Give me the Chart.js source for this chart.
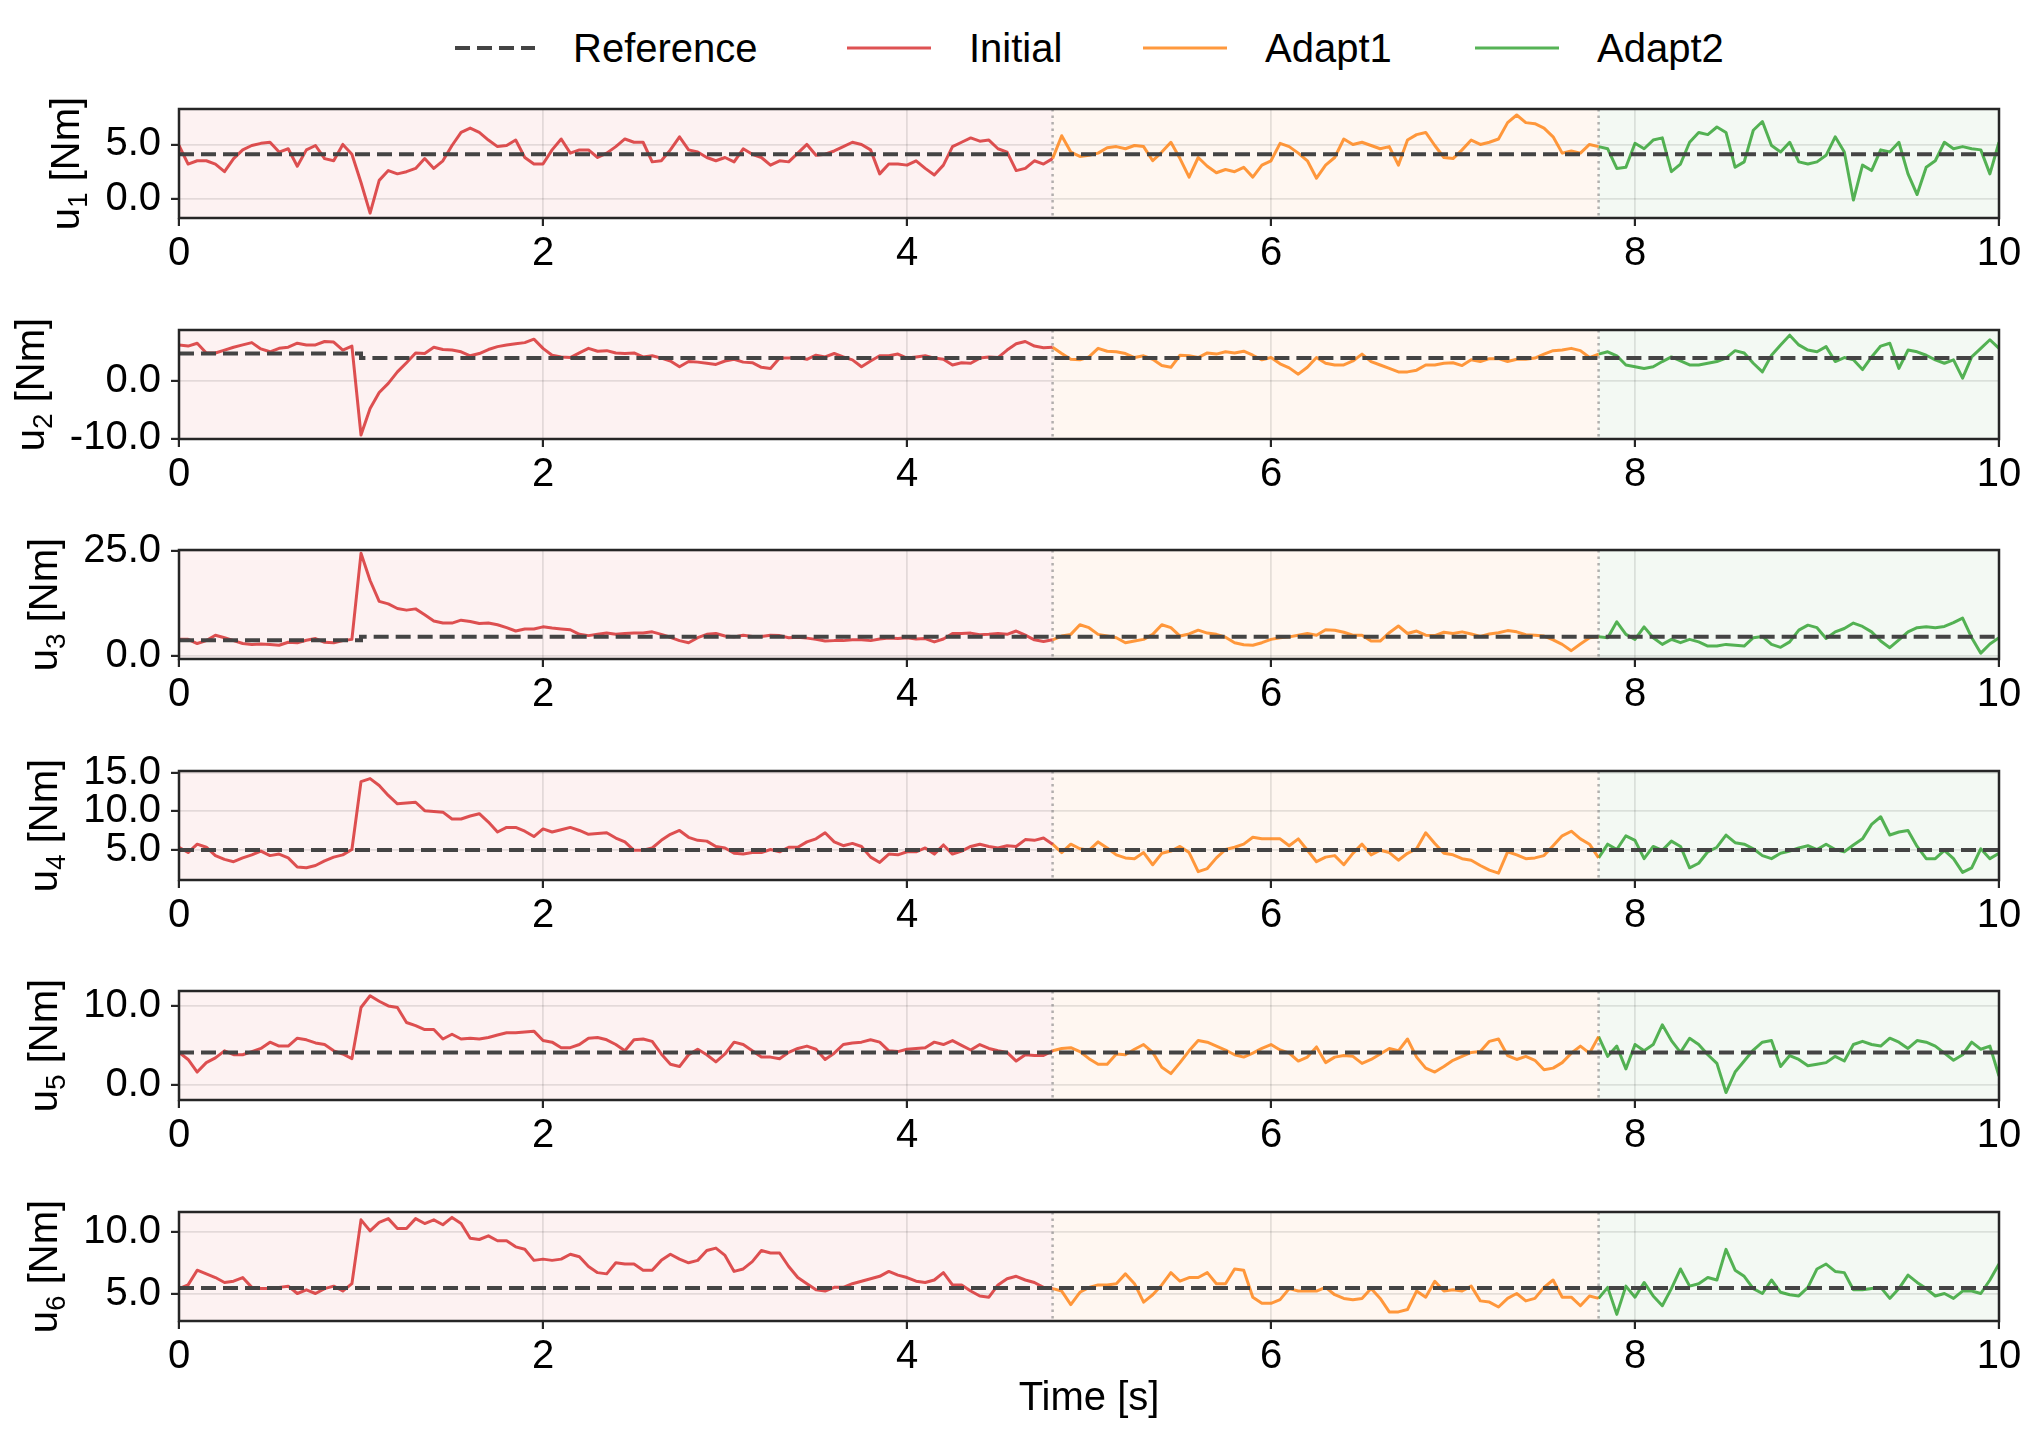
<!DOCTYPE html>
<html>
<head>
<meta charset="utf-8">
<script src="https://cdn.jsdelivr.net/npm/chart.js@4.4.1/dist/chart.umd.min.js"></script>
<style>
  body { margin: 0; background: #fff; width: 2037px; height: 1435px; position: relative; overflow: hidden;
         font-family: "Liberation Sans", Arial, sans-serif; }
  .panel { position: absolute; left: 0; }
  .item { position: absolute; top: 23px; height: 50px; display: flex; align-items: center; font-size: 40px; color: #000; }
  .item span { margin-left: 38px; }
</style>
</head>
<body>
<div class="item" style="left:455px"><svg width="80" height="8"><line x1="0" y1="4" x2="80" y2="4" stroke="#444" stroke-width="4" stroke-dasharray="15 7"/></svg><span>Reference</span></div>
<div class="item" style="left:847px"><svg width="84" height="8"><line x1="0" y1="4" x2="84" y2="4" stroke="rgba(214,39,40,0.8)" stroke-width="3"/></svg><span>Initial</span></div>
<div class="item" style="left:1143px"><svg width="84" height="8"><line x1="0" y1="4" x2="84" y2="4" stroke="rgba(255,127,14,0.8)" stroke-width="3"/></svg><span>Adapt1</span></div>
<div class="item" style="left:1475px"><svg width="84" height="8"><line x1="0" y1="4" x2="84" y2="4" stroke="rgba(44,160,44,0.8)" stroke-width="3"/></svg><span>Adapt2</span></div>
<div id="panels"></div>
<script>
// sampling and phases
const dt = 0.05;
const phaseStart = [0, 4.8, 7.8];
const phaseEnd = 10;
const xTicks = [0, 2, 4, 6, 8, 10];

// reference torque (steps at t = 1 s)
const refSwitch = 1.0;
const refBefore = [4.1, 4.8, 3.7, 4.95, 4.1, 5.45];
const refAfter  = [4.1, 4.0, 4.5, 4.95, 4.1, 5.45];

// y axes
const yMin = [-1.75, -10.1, -0.8, 1.0, -1.95, 2.76];
const yMax = [8.25, 8.9, 25.3, 15.3, 11.9, 11.64];
const yTicks = [[0, 5], [-10, 0], [0, 25], [5, 10, 15], [0, 10], [5, 10]];

// u1
const u1Initial = [4.9,3.2,3.5,3.5,3.2,2.5,3.7,4.5,4.9,5.1,5.2,4.3,4.6,3.0,4.5,4.9,3.7,3.5,5.0,4.1,
  1.5,-1.3,1.7,2.6,2.3,2.5,2.8,3.7,2.8,3.5,4.9,6.1,6.5,6.1,5.4,4.8,4.9,5.4,3.8,3.2,
  3.2,4.5,5.5,4.2,4.5,4.5,3.8,4.2,4.8,5.5,5.2,5.2,3.4,3.5,4.5,5.7,4.5,4.3,3.8,3.5,
  3.8,3.4,4.6,4.1,3.8,3.1,3.5,3.4,4.2,5.0,4.0,4.1,4.4,4.8,5.2,5.0,4.5,2.3,3.2,3.2,
  3.1,3.5,2.8,2.2,3.1,4.8,5.2,5.6,5.3,5.4,4.6,4.3,2.6,2.8,3.5,3.2,3.7];
const u1Adapt1 = [3.7,5.8,4.3,3.9,
  4.0,4.2,4.7,4.8,4.6,4.9,4.8,3.5,4.3,5.2,3.7,2.0,3.8,3.0,2.4,2.7,2.5,2.9,2.0,3.1,
  3.5,5.1,4.8,4.2,3.5,1.9,3.1,3.8,5.5,5.0,5.2,4.9,4.6,4.8,3.1,5.4,5.9,6.1,4.9,3.8,
  3.7,4.5,5.4,5.0,5.2,5.5,7.0,7.7,7.0,6.9,6.5,5.7,4.2,4.4,4.2,5.0,4.8];
const u1Adapt2 = [4.8,4.6,2.8,2.9,
  5.1,4.6,5.4,5.6,2.5,3.2,5.2,6.1,5.9,6.6,6.1,2.9,3.4,6.3,7.1,4.9,4.3,5.2,3.4,3.2,
  3.4,4.0,5.7,4.3,-0.1,3.1,2.6,4.5,4.3,5.2,2.3,0.4,2.9,3.5,5.2,4.6,4.8,4.6,4.5,2.3,
  5.2];

// u2
const u2Initial = [6.3,6.1,6.6,4.9,4.9,5.4,5.9,6.3,6.7,5.6,5.1,5.7,5.9,6.6,6.3,6.3,6.9,6.8,5.4,6.1,
  -9.4,-4.8,-2.0,-0.4,1.6,3.2,4.9,4.8,5.9,5.5,5.4,5.1,4.4,4.8,5.5,6.0,6.3,6.5,6.7,7.3,
  5.7,4.5,4.2,4.1,4.9,5.7,5.2,5.3,4.9,4.8,4.9,4.2,4.4,4.0,3.5,2.5,3.4,3.3,3.1,2.9,
  3.5,3.8,3.3,3.2,2.4,2.2,4.0,4.0,4.1,3.8,4.5,4.2,4.8,4.2,3.7,2.5,3.5,4.4,4.4,4.7,
  4.0,4.2,4.4,4.0,3.8,2.8,3.2,3.1,4.0,4.2,4.1,5.4,6.5,6.9,6.1,5.8,5.9];
const u2Adapt1 = [5.9,4.8,3.8,3.7,
  4.2,5.7,5.2,5.1,4.8,4.1,4.4,3.8,2.7,2.4,4.5,4.4,4.1,4.9,4.7,5.1,4.9,5.2,4.5,3.7,
  4.1,3.0,2.3,1.2,2.4,4.1,3.1,2.8,2.8,3.5,4.7,3.4,2.8,2.2,1.6,1.6,1.9,2.8,2.8,3.1,
  3.2,2.7,3.7,3.4,3.9,3.9,3.4,3.8,3.8,4.0,4.7,5.3,5.4,5.7,5.3,4.1,4.7];
const u2Adapt2 = [4.7,5.1,4.4,2.8,
  2.5,2.2,2.5,3.4,4.2,3.5,2.8,2.8,3.1,3.4,4.0,5.3,4.9,3.1,1.6,4.5,6.3,8.0,6.3,5.4,
  5.1,6.0,3.4,4.1,3.7,2.0,4.2,6.1,6.6,2.2,5.4,5.1,4.5,3.7,3.1,3.7,0.5,4.2,5.7,7.2,
  5.7];

// u3
const u3Initial = [3.9,3.9,2.9,3.6,4.9,4.3,3.6,2.9,2.7,2.8,2.7,2.5,3.2,3.1,3.7,4.1,3.2,3.1,3.6,3.9,
  24.5,18.0,13.0,12.4,11.3,10.9,11.2,9.8,8.3,7.8,7.8,8.5,8.2,7.7,7.8,7.4,6.7,5.9,6.4,6.4,
  6.9,6.6,6.4,6.2,5.1,4.8,5.1,5.4,5.1,5.3,5.4,5.4,5.7,5.1,4.4,3.6,3.1,4.3,5.1,5.3,
  4.7,4.5,4.9,4.6,4.6,4.9,4.8,4.3,4.4,4.2,3.9,3.5,3.6,3.6,3.8,3.8,3.6,4.0,4.2,4.1,
  4.3,4.0,4.1,3.3,4.0,5.3,5.3,5.4,5.0,5.1,5.3,5.1,5.9,4.9,3.8,3.4,3.8];
const u3Adapt1 = [3.8,4.7,5.1,7.4,
  6.7,5.1,4.7,4.3,3.1,3.5,3.9,5.1,7.4,6.7,4.7,5.2,6.1,5.4,5.1,4.4,3.1,2.6,2.5,3.1,
  3.9,4.3,4.5,4.9,5.3,4.9,6.2,6.1,5.6,4.9,4.9,3.5,3.5,5.5,7.1,5.3,5.9,4.9,4.8,5.6,
  5.3,5.7,5.2,4.6,5.2,5.5,6.0,5.7,5.0,4.9,4.7,3.8,2.7,1.2,2.8,4.3,4.5];
const u3Adapt2 = [4.5,4.3,8.1,5.1,
  3.9,6.9,4.3,2.7,3.9,3.1,3.9,3.3,2.3,2.3,2.7,2.5,2.3,4.3,4.6,2.7,2.0,3.3,6.1,7.3,
  6.7,4.1,5.7,6.5,7.8,7.0,5.7,3.5,1.9,3.8,5.7,6.7,6.9,6.7,7.0,7.9,9.0,4.3,0.6,2.8,
  4.3];

// u4
const u4Initial = [5.3,4.6,5.7,5.3,4.2,3.7,3.4,3.9,4.3,4.8,4.2,4.4,3.9,2.7,2.6,2.9,3.5,4.0,4.3,5.0,
  13.9,14.3,13.4,12.1,11.0,11.1,11.2,10.1,10.0,9.9,9.0,9.0,9.4,9.7,8.6,7.3,7.9,7.9,7.4,6.7,
  7.7,7.3,7.6,7.9,7.5,7.0,7.1,7.2,6.5,6.0,4.9,4.9,5.2,6.2,7.0,7.5,6.6,6.2,6.1,5.4,
  5.2,4.5,4.4,4.6,4.6,5.0,4.7,5.3,5.3,6.0,6.4,7.2,6.0,5.5,5.8,5.4,4.0,3.3,4.4,4.3,
  4.7,4.7,5.2,4.4,5.6,4.4,4.8,5.4,5.7,5.4,5.2,5.5,5.4,6.3,6.2,6.5,5.7];
const u4Adapt1 = [5.7,4.6,5.7,5.1,
  4.9,6.0,5.2,4.3,3.9,3.8,4.6,3.0,4.5,4.8,5.4,4.6,2.1,2.5,3.9,5.0,5.3,5.7,6.6,6.4,
  6.4,6.4,5.5,6.4,4.9,3.4,4.0,4.2,3.0,4.5,5.7,4.3,4.9,4.6,3.6,4.5,5.1,7.2,5.8,4.5,
  4.3,3.8,3.6,2.9,2.3,1.9,4.7,4.3,3.8,3.9,4.2,5.5,6.8,7.4,6.4,5.7,3.9];
const u4Adapt2 = [3.9,5.7,5.0,6.8,
  6.2,3.8,5.4,4.9,6.1,5.4,2.6,3.2,4.7,5.3,6.9,5.9,5.7,5.1,4.2,3.8,4.5,4.8,5.2,5.5,
  5.0,5.7,5.0,4.7,5.6,6.4,8.3,9.3,6.9,7.3,7.5,5.4,3.8,3.8,4.9,3.8,2.0,2.6,5.1,3.8,
  4.5];

// u5
const u5Initial = [4.1,3.2,1.6,2.8,3.4,4.3,3.8,3.8,4.2,4.6,5.4,4.9,4.9,5.9,5.7,5.3,5.1,4.3,3.9,3.3,
  9.8,11.3,10.6,10.0,9.8,7.9,7.5,7.0,7.0,5.8,6.4,5.8,5.9,5.8,6.0,6.3,6.6,6.6,6.7,6.8,
  5.6,5.4,4.7,4.7,5.1,5.9,6.0,5.7,5.1,4.3,5.7,5.8,5.5,3.9,2.6,2.3,3.8,4.5,3.8,2.9,
  3.9,5.4,5.1,4.3,3.5,3.5,3.3,4.1,4.6,4.9,4.5,3.2,4.0,5.1,5.3,5.4,5.7,5.4,4.3,4.2,
  4.5,4.6,4.7,5.4,5.1,5.6,5.0,4.4,5.1,4.6,4.3,4.1,3.0,3.8,3.7,3.7,4.3];
const u5Adapt1 = [4.3,4.6,4.7,4.2,
  3.3,2.6,2.6,3.9,3.8,4.5,5.1,4.1,2.2,1.4,2.8,4.3,5.6,5.4,4.9,4.4,3.8,3.5,4.0,4.6,
  5.1,4.4,4.0,3.0,3.5,4.8,2.8,3.5,3.7,3.6,2.7,3.2,3.9,4.6,4.3,5.8,3.5,2.1,1.6,2.3,
  3.1,3.6,4.1,4.2,5.5,5.8,3.7,3.2,3.6,3.1,1.9,2.1,2.8,4.0,4.9,4.0,6.1];
const u5Adapt2 = [6.1,3.6,4.9,2.0,
  5.1,4.3,5.1,7.6,5.6,4.1,5.9,5.1,3.8,2.7,-1.0,1.6,3.0,4.4,5.4,5.6,2.3,3.7,3.2,2.4,
  2.6,2.8,3.6,3.0,5.1,5.5,5.1,4.9,5.9,5.4,4.6,5.6,5.4,4.9,4.0,3.1,3.8,5.4,4.5,4.9,
  1.1];

// u6
const u6Initial = [5.4,5.7,6.9,6.6,6.3,5.9,6.0,6.3,5.5,5.4,5.4,5.5,5.6,5.0,5.3,5.0,5.4,5.6,5.2,5.8,
  11.0,10.1,10.8,11.1,10.3,10.3,11.1,10.7,11.0,10.6,11.2,10.7,9.5,9.4,9.7,9.3,9.3,8.8,8.6,7.7,
  7.8,7.7,7.8,8.2,8.0,7.2,6.7,6.6,7.5,7.4,7.4,6.9,6.9,7.7,8.2,7.8,7.5,7.7,8.5,8.7,
  8.1,6.8,7.0,7.6,8.5,8.3,8.3,7.2,6.3,5.8,5.3,5.2,5.5,5.5,5.8,6.0,6.2,6.4,6.8,6.5,
  6.3,6.0,5.9,6.1,6.7,5.7,5.7,5.2,4.8,4.7,5.7,6.2,6.4,6.1,5.9,5.5,5.4];
const u6Adapt1 = [5.4,5.2,4.1,5.1,
  5.5,5.7,5.7,5.8,6.6,5.8,4.3,4.9,5.7,6.7,6.0,6.3,6.3,6.7,5.8,5.8,7.0,6.9,4.7,4.2,
  4.2,4.5,5.4,5.2,5.2,5.2,5.5,4.9,4.6,4.5,4.6,5.4,4.6,3.5,3.5,3.7,5.2,4.7,6.0,5.2,
  5.3,5.2,5.6,4.4,4.3,3.9,4.6,5.0,4.4,4.6,5.5,6.1,4.7,4.7,4.0,4.8,4.6];
const u6Adapt2 = [4.6,5.5,3.3,5.6,
  4.7,5.9,4.8,4.0,5.4,7.0,5.6,5.8,6.3,6.1,8.6,6.9,6.4,5.4,5.0,6.1,5.1,4.9,4.8,5.5,
  7.0,7.4,6.8,6.7,5.3,5.3,5.4,5.5,4.6,5.4,6.5,5.9,5.4,4.8,5.0,4.6,5.2,5.2,5.0,6.1,
  7.4];

const series = [
  [u1Initial, u1Adapt1, u1Adapt2],
  [u2Initial, u2Adapt1, u2Adapt2],
  [u3Initial, u3Adapt1, u3Adapt2],
  [u4Initial, u4Adapt1, u4Adapt2],
  [u5Initial, u5Adapt1, u5Adapt2],
  [u6Initial, u6Adapt1, u6Adapt2]
];
const phaseNames = ['Initial', 'Adapt1', 'Adapt2'];

// styling
const FONT = '"Liberation Sans", Arial, sans-serif';
const lineColors = ['rgba(214,39,40,0.8)', 'rgba(255,127,14,0.8)', 'rgba(44,160,44,0.8)'];
const shadeColors = ['rgba(214,39,40,0.06)', 'rgba(255,127,14,0.06)', 'rgba(44,160,44,0.06)'];
const PLOT_TOP0 = 109, PANEL_STEP = 220.6, PLOT_H = 109, PAD_TOP = 30, XAXIS_H = 70;

const decor = {
  id: 'decor',
  beforeDraw(chart) {
    const { ctx, chartArea: a, scales: { x } } = chart;
    ctx.save();
    phaseStart.forEach((t0, k) => {
      const t1 = k + 1 < phaseStart.length ? phaseStart[k + 1] : phaseEnd;
      const l = x.getPixelForValue(t0), r = x.getPixelForValue(t1);
      ctx.fillStyle = shadeColors[k];
      ctx.fillRect(l, a.top, r - l, a.bottom - a.top);
    });
    ctx.restore();
  },
  beforeDatasetsDraw(chart) {
    const { ctx, chartArea: a, scales: { x } } = chart;
    ctx.save();
    ctx.strokeStyle = 'rgba(128,128,128,0.6)';
    ctx.lineWidth = 2.5;
    ctx.setLineDash([2.5, 4]);
    phaseStart.slice(1).forEach(t => {
      const px = x.getPixelForValue(t);
      ctx.beginPath(); ctx.moveTo(px, a.top); ctx.lineTo(px, a.bottom); ctx.stroke();
    });
    ctx.restore();
  },
  afterDraw(chart, args, opts) {
    const { ctx, chartArea: a } = chart;
    const i = opts.index;
    ctx.save();
    ctx.strokeStyle = '#262626';
    ctx.lineWidth = 2.5;
    ctx.strokeRect(a.left, a.top, a.right - a.left, a.bottom - a.top);

    // y label with subscript
    ctx.fillStyle = '#000';
    ctx.font = '40px ' + FONT;
    const maxW = Math.max(...yTicks[i].map(v => ctx.measureText(v.toFixed(1)).width));
    const xBase = a.left - 18 - maxW - 26;
    const yMid = (a.top + a.bottom) / 2;
    const wU = ctx.measureText('u').width;
    const wR = ctx.measureText(' [Nm]').width;
    ctx.font = '28px ' + FONT;
    const wS = ctx.measureText(String(i + 1)).width;
    const total = wU + wS + wR;
    ctx.translate(xBase, yMid);
    ctx.rotate(-Math.PI / 2);
    ctx.textBaseline = 'alphabetic';
    ctx.textAlign = 'left';
    let px = -total / 2;
    ctx.font = '40px ' + FONT;
    ctx.fillText('u', px, 0); px += wU;
    ctx.font = '28px ' + FONT;
    ctx.fillText(String(i + 1), px, 8); px += wS;
    ctx.font = '40px ' + FONT;
    ctx.fillText(' [Nm]', px, 0);
    ctx.setTransform(1, 0, 0, 1, 0, 0);

    if (i === series.length - 1) {
      ctx.font = '40px ' + FONT;
      ctx.textAlign = 'center';
      ctx.textBaseline = 'middle';
      ctx.fillText('Time [s]', (a.left + a.right) / 2, a.bottom + 78);
    }
    ctx.restore();
  }
};

function points(start, values) {
  return values.map((v, k) => ({ x: start + k * dt, y: v }));
}

const holder = document.getElementById('panels');
series.forEach((phases, i) => {
  const last = i === series.length - 1;
  const h = PAD_TOP + PLOT_H + XAXIS_H + (last ? 70 : 0);
  const div = document.createElement('div');
  div.className = 'panel';
  div.style.top = (PLOT_TOP0 + i * PANEL_STEP - PAD_TOP) + 'px';
  const canvas = document.createElement('canvas');
  canvas.width = 2037; canvas.height = h;
  canvas.style.width = '2037px'; canvas.style.height = h + 'px';
  div.appendChild(canvas);
  holder.appendChild(div);

  const datasets = [{
    label: 'Reference',
    data: [{ x: 0, y: refBefore[i] }, { x: refSwitch, y: refBefore[i] },
           { x: refSwitch, y: refAfter[i] }, { x: phaseEnd, y: refAfter[i] }],
    borderColor: '#444', borderWidth: 4, borderDash: [15, 7], pointRadius: 0
  }];
  phases.forEach((vals, k) => {
    datasets.push({
      label: phaseNames[k], data: points(phaseStart[k], vals),
      borderColor: lineColors[k], borderWidth: 3, pointRadius: 0,
      tension: 0, borderJoinStyle: 'round'
    });
  });

  new Chart(canvas, {
    type: 'line',
    data: { datasets },
    options: {
      animation: false, responsive: false, devicePixelRatio: 1,
      layout: { padding: { top: PAD_TOP, right: 38, left: 0, bottom: 0 } },
      plugins: { legend: { display: false }, tooltip: { enabled: false }, decor: { index: i } },
      scales: {
        x: {
          type: 'linear', min: 0, max: phaseEnd,
          afterFit: s => { s.height = h - PAD_TOP - PLOT_H; },
          afterBuildTicks: s => { s.ticks = xTicks.map(v => ({ value: v })); },
          ticks: { color: '#000', font: { family: FONT, size: 40, lineHeight: 1 }, padding: 8, maxRotation: 0,
                   callback: v => String(v) },
          grid: { color: 'rgba(0,0,0,0.1)', lineWidth: 1.8, tickColor: '#262626', tickLength: 8, tickWidth: 2.2 },
          border: { display: false }
        },
        y: {
          min: yMin[i], max: yMax[i],
          afterFit: s => { s.width = 179; },
          afterBuildTicks: s => { s.ticks = yTicks[i].map(v => ({ value: v })); },
          ticks: { color: '#000', font: { family: FONT, size: 40, lineHeight: 1 }, padding: 10,
                   callback: v => Number(v).toFixed(1) },
          grid: { color: 'rgba(0,0,0,0.1)', lineWidth: 1.8, tickColor: '#262626', tickLength: 8, tickWidth: 2.2 },
          border: { display: false }
        }
      }
    },
    plugins: [decor]
  });
});
</script>
</body>
</html>
